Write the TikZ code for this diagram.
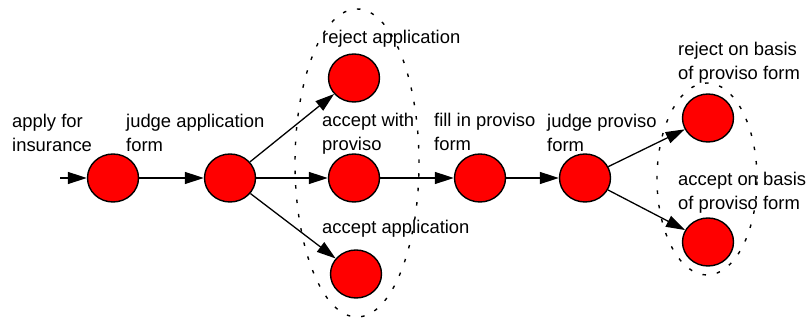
\documentclass[tikz,border=0pt]{standalone}
\usepackage{fontspec}
\setmainfont{Liberation Sans}
\usetikzlibrary{shapes.geometric,arrows.meta}

\begin{document}
\begin{tikzpicture}[
    x=1pt, y=1pt,
    task/.style={
      ellipse,
      minimum width=51pt,
      minimum height=48pt,
      inner sep=0pt,
      draw=black,
      line width=1.4pt,
      fill=red
    },
    arrow/.style={
      -{Triangle[length=19pt,width=12pt]},
      line width=1.3pt
    },
    group/.style={
      ellipse,
      inner sep=0pt,
      draw=black,
      line width=1.4pt,
      dash pattern=on 3.5pt off 11pt
    },
    label/.style={
      anchor=north west,
      inner sep=0pt,
      align=left,
      font=\fontsize{18.4pt}{24pt}\selectfont
    }
  ]
    \useasboundingbox (0,0) rectangle (808,320);

    % Choice groups
    \node (decision) [group, minimum width=124pt, minimum height=308pt] at (357,157) {};
    \node (verdict) [group, minimum width=100pt, minimum height=192pt] at (707,141) {};

    % Main row
    \coordinate (start) at (60,142);
    \node (apply) [task] at (113,142) {};
    \node (judgeapp) [task, right of=apply, node distance=117pt] {};
    \node (proviso) [task, right of=judgeapp, node distance=124pt] {};
    \node (fill) [task, right of=proviso, node distance=126pt] {};
    \node (judgeprov) [task, right of=fill, node distance=105pt] {};

    % Branches
    \node (reject) [task] at (354,242) {};
    \node (accept) [task] at (356,46) {};
    \node (rejectbasis) [task] at (708,202) {};
    \node (acceptbasis) [task] at (708,78) {};

    % Labels
    \node (lapply) [label] at (12,206) {apply for\\insurance};
    \node (ljudgeapp) [label] at (126,206) {judge application\\form};
    \node (lreject) [label] at (322,290) {reject application};
    \node (lproviso) [label] at (322,207) {accept with\\proviso};
    \node (lfill) [label] at (434,207) {fill in proviso\\form};
    \node (laccept) [label] at (322,100) {accept application};
    \node (ljudgeprov) [label] at (547,206) {judge proviso\\form};
    \node (lrejectbasis) [label] at (678,278) {reject on basis\\of proviso form};
    \node (lacceptbasis) [label] at (678,148) {accept on basis\\of proviso form};

    % Arrows
    \draw [arrow] (start) -- (apply);
    \draw [arrow] (apply) -- (judgeapp);
    \draw [arrow] (judgeapp) -- (reject);
    \draw [arrow] (judgeapp) -- (proviso);
    \draw [arrow] (judgeapp) -- (accept);
    \draw [arrow] (proviso) -- (fill);
    \draw [arrow] (fill) -- (judgeprov);
    \draw [arrow] (judgeprov) -- (rejectbasis);
    \draw [arrow] (judgeprov) -- (acceptbasis);

  \end{tikzpicture}
\end{document}
